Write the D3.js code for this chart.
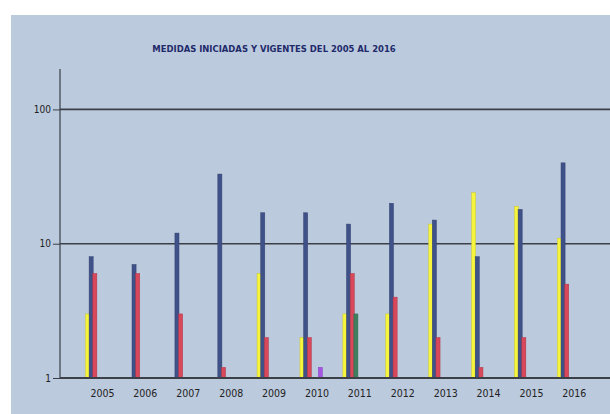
<!DOCTYPE html>
<html>
<head>
<meta charset="utf-8">
<script src="https://cdn.jsdelivr.net/npm/d3@7"></script>
<style>
  body { margin: 0; background: white; }
</style>
</head>
<body>
<script>
// datos
const years = ['2005', '2006', '2007', '2008', '2009', '2010', '2011', '2012', '2013', '2014', '2015', '2016']
const amarillo = [3, 0, 0, 0, 6, 2, 3, 3, 14, 24, 19, 11]
const azul = [8, 7, 12, 33, 17, 17, 14, 20, 15, 8, 18, 40]
const rojo = [6, 6, 3, 1.2, 2, 2, 6, 4, 2, 1.2, 2, 5]
const verde = [0, 0, 0, 0, 0, 0, 3, 0, 0, 0, 0, 0]
const otro = [0, 0, 0, 0, 0, 0, 0, 0, 0, 0, 0, 0]
const morado = [0, 0, 0, 0, 0, 1.2, 0, 0, 0, 0, 0, 0]
const yTicks = [1, 10, 100]
const title = 'MEDIDAS INICIADAS Y VIGENTES DEL 2005 AL 2016'

const series = [
    {key: 'amarillo', values: amarillo, color: '#f6f43c'},
    {key: 'azul', values: azul, color: '#3f5189'},
    {key: 'rojo', values: rojo, color: '#d8475a'},
    {key: 'verde', values: verde, color: '#3f7f5e'},
    {key: 'otro', values: otro, color: '#888888'},
    {key: 'morado', values: morado, color: '#a656e6'}
]

function main(){
    const width = 610
    const height = 414

    let svg = d3.select('body')
        .append('svg')
        .attr('width', width)
        .attr('height', height)

    // panel de fondo
    svg.append('rect')
        .attr('x', 11)
        .attr('y', 15)
        .attr('width', width - 11)
        .attr('height', height - 15)
        .attr('fill', '#bccadd')

    svg.append('text')
        .attr('x', 274)
        .attr('y', 52)
        .attr('text-anchor', 'middle')
        .attr('font-family', 'DejaVu Sans Condensed, DejaVu Sans')
        .attr('font-weight', 'bold')
        .attr('font-size', '9.4px')
        .attr('fill', '#1f2a6b')
        .text(title)

    const left = 60
    const bottom = 378

    let xScale = d3.scaleBand()
        .domain(years)
        .range([75, 75 + 12 * 42.9])

    let slot = d3.scaleBand()
        .domain(series.map(d => d.key))
        .range([-11, 11])

    let yScale = d3.scaleLog()
        .domain([1, 200])
        .range([bottom, 69])

    // lineas de division
    svg.selectAll('line.grid')
        .data(yTicks.slice(1))
        .enter()
        .append('line')
        .attr('class', 'grid')
        .attr('x1', left)
        .attr('x2', width)
        .attr('y1', d => yScale(d))
        .attr('y2', d => yScale(d))
        .attr('stroke', '#3a3f48')
        .attr('stroke-width', 1.6)

    // barras
    series.forEach(s => {
        svg.append('g')
            .selectAll('rect')
            .data(years.map((y, i) => ({year: y, v: s.values[i]})).filter(d => d.v > 0))
            .enter()
            .append('rect')
            .attr('x', d => xScale(d.year) + xScale.bandwidth() / 2 + slot(s.key))
            .attr('y', d => yScale(d.v))
            .attr('width', slot.bandwidth() + 0.4)
            .attr('height', d => bottom - yScale(d.v))
            .attr('fill', s.color)
            .attr('stroke', d3.color(s.color).darker(0.6))
            .attr('stroke-width', 0.5)
    })

    // eje y
    let yAxis = svg.append('g')
        .attr('transform', `translate(${left},0)`)
        .call(d3.axisLeft(yScale)
            .tickValues(yTicks)
            .tickFormat(d3.format('d'))
            .tickSize(7))
    yAxis.select('.domain')
        .attr('d', `M0,${yScale.range()[1]}V${bottom}`)
        .attr('stroke', '#3a3f48')
        .attr('stroke-width', 1.2)
    yAxis.selectAll('.tick line')
        .attr('stroke', '#3a3f48')
    yAxis.selectAll('.tick text')
        .attr('font-family', 'DejaVu Sans Condensed, DejaVu Sans')
        .attr('font-size', '10px')
        .attr('fill', '#222')
        .attr('x', -9)

    // eje x
    let xAxis = svg.append('g')
        .attr('transform', `translate(0,${bottom})`)
        .call(d3.axisBottom(xScale).tickSize(0).tickPadding(12))
    xAxis.select('.domain')
        .attr('d', `M${left},0H${width}`)
        .attr('stroke', '#3a3f48')
        .attr('stroke-width', 1.8)
    xAxis.selectAll('.tick text')
        .attr('font-family', 'DejaVu Sans Condensed, DejaVu Sans')
        .attr('font-size', '10.5px')
        .attr('fill', '#222')
        .attr('dx', 6)
}

main()
</script>
</body>
</html>
